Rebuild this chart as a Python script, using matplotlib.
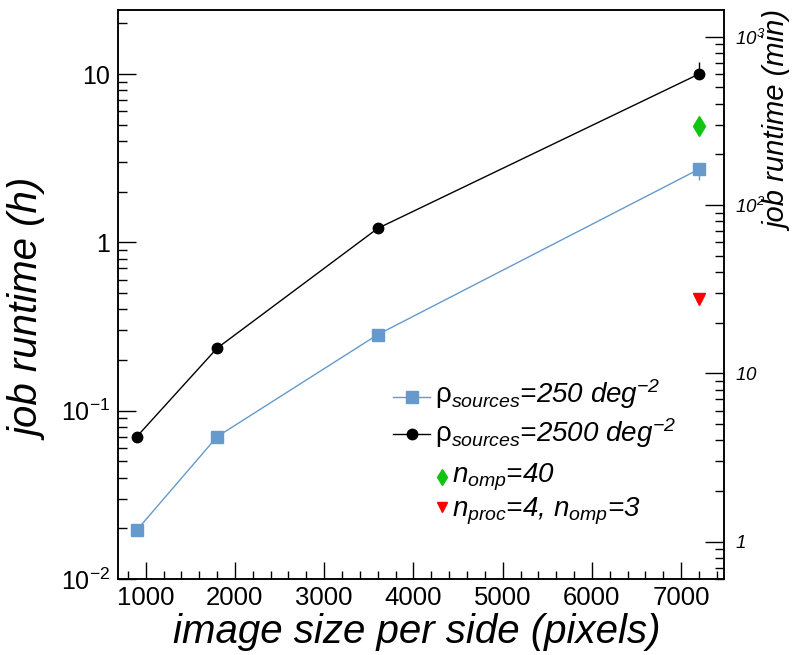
import matplotlib
matplotlib.use("Agg")
import matplotlib.pyplot as plt
from matplotlib.ticker import FixedLocator, FixedFormatter, LogLocator, NullFormatter, MultipleLocator

# -----------------------
# Data
# -----------------------
image_size = [900, 1800, 3600, 7200]
runtime_250 = [0.0195, 0.070, 0.283, 2.72]      # hours
runtime_2500 = [0.070, 0.235, 1.21, 10.0]       # hours
err_250_lo = [0, 0, 0, 0.38]
err_250_hi = [0, 0, 0, 0]
err_2500_lo = [0, 0, 0, 0]
err_2500_hi = [0, 0, 0, 1.8]
omp_x = [7200]
omp_y = [4.9]        # n_omp=40
proc_x = [7200]
proc_y = [0.46]      # n_proc=4, n_omp=3

left_ticks = [0.01, 0.1, 1, 10]
left_labels = [r"$10^{-2}$", r"$10^{-1}$", "1", "10"]
right_ticks = [1, 10, 100, 1000]
right_labels = [r"$\mathsf{1}$", r"$\mathsf{10}$", r"$\mathsf{10^{2}}$", r"$\mathsf{10^{3}}$"]

BLUE = "#6699cc"
GREEN = "#11c411"
RED = "#ff0000"

# -----------------------
# Style
# -----------------------
plt.rcParams["font.family"] = ["Liberation Sans", "DejaVu Sans"]
plt.rcParams["mathtext.fontset"] = "custom"
plt.rcParams["mathtext.rm"] = "Liberation Sans"
plt.rcParams["mathtext.it"] = "Liberation Sans:italic"
plt.rcParams["mathtext.bf"] = "Liberation Sans:bold"
plt.rcParams["mathtext.sf"] = "Liberation Sans:italic"

fig = plt.figure(figsize=(7.96, 6.55), dpi=100)
ax = fig.add_axes([118 / 796, 76 / 655, 606 / 796, 569 / 655])

# -----------------------
# Plot
# -----------------------
ax.errorbar(image_size, runtime_250, yerr=[err_250_lo, err_250_hi], color=BLUE,
            lw=1.0, marker="s", ms=8, mec=BLUE, mfc=BLUE, elinewidth=1.0, capsize=0)
ax.errorbar(image_size, runtime_2500, yerr=[err_2500_lo, err_2500_hi], color="black",
            lw=1.0, marker="o", ms=7.5, elinewidth=1.0, capsize=0)
ax.plot(omp_x, omp_y, linestyle="none", marker="d", ms=10, color=GREEN)
ax.plot(proc_x, proc_y, linestyle="none", marker="v", ms=8.5, color=RED)

ax.set_yscale("log")
ax.set_xlim(690, 7480)
ax.set_ylim(0.01, 24)

for s in ax.spines.values():
    s.set_linewidth(1.1)

ax.xaxis.set_major_locator(MultipleLocator(1000))
ax.xaxis.set_minor_locator(MultipleLocator(200))
ax.yaxis.set_major_locator(FixedLocator(left_ticks))
ax.yaxis.set_major_formatter(FixedFormatter(left_labels))
ax.yaxis.set_minor_locator(LogLocator(base=10, subs=range(2, 10)))
ax.yaxis.set_minor_formatter(NullFormatter())

ax.tick_params(axis="x", which="major", direction="in", length=12, width=1.0,
               labelsize=18.5, pad=5, top=False)
ax.tick_params(axis="x", which="minor", direction="in", length=6, width=1.0, top=False)
ax.tick_params(axis="y", which="major", direction="in", length=13, width=1.0,
               labelsize=18, pad=6, right=False)
ax.tick_params(axis="y", which="minor", direction="in", length=6.5, width=1.0, right=False)

# right axis in minutes
ax2 = ax.twinx()
ax2.set_yscale("log")
ax2.set_ylim(0.01 * 60, 24 * 60)
ax2.yaxis.set_major_locator(FixedLocator(right_ticks))
ax2.yaxis.set_major_formatter(FixedFormatter(right_labels))
ax2.yaxis.set_minor_locator(LogLocator(base=10, subs=range(2, 10)))
ax2.yaxis.set_minor_formatter(NullFormatter())
ax2.tick_params(axis="y", which="major", direction="in", length=13.5, width=1.0,
                labelsize=13.5, pad=8)
ax2.tick_params(axis="y", which="minor", direction="in", length=6.5, width=1.0)
for s in ax2.spines.values():
    s.set_linewidth(1.1)

# -----------------------
# Axis titles
# -----------------------
fig.text(417 / 796, 1 - 643 / 655, "image size per side (pixels)", fontsize=29,
         style="italic", ha="center", va="baseline")
fig.text(31 / 796, 1 - 310 / 655, "job runtime (h)", fontsize=29, style="italic",
         rotation=90, ha="center", va="center")
fig.text(779 / 796, 1 - 121 / 655, "job runtime (min)", fontsize=21, style="italic",
         rotation=90, ha="center", va="center")

# -----------------------
# Legend (ROOT style, drawn in axes coords)
# -----------------------
tr = ax.transAxes
ax.plot([0.454, 0.515], [0.320, 0.320], color=BLUE, lw=1.0, transform=tr, clip_on=False)
ax.plot([0.485], [0.320], marker="s", ms=8, color=BLUE, transform=tr, clip_on=False)
ax.plot([0.454, 0.515], [0.255, 0.255], color="black", lw=1.0, transform=tr, clip_on=False)
ax.plot([0.485], [0.255], marker="o", ms=7.5, color="black", transform=tr, clip_on=False)
ax.plot([0.535], [0.179], marker="d", ms=8, color=GREEN, transform=tr, clip_on=False)
ax.plot([0.535], [0.126], marker="v", ms=7, color=RED, transform=tr, clip_on=False)

leg_kw = dict(transform=tr, fontsize=20, style="italic", ha="left", va="baseline")
ax.text(0.523, 0.309, r"$\mathrm{\rho}_{sources}$=250 deg$^{\mathsf{-2}}$", **leg_kw)
ax.text(0.523, 0.241, r"$\mathrm{\rho}_{sources}$=2500 deg$^{\mathsf{-2}}$", **leg_kw)
ax.text(0.551, 0.170, r"$n_{omp}$=40", **leg_kw)
ax.text(0.551, 0.109, r"$n_{proc}$=4, $n_{omp}$=3", **leg_kw)

fig.savefig("out.png", dpi=100)
